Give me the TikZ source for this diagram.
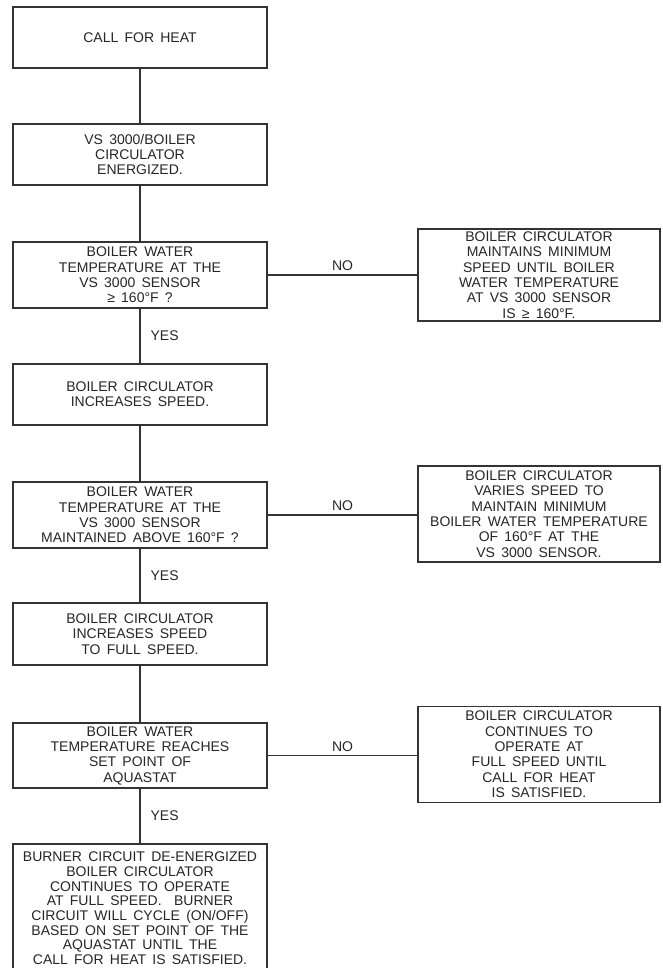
\documentclass[tikz,border=0pt]{standalone}
\usepackage{fontspec}
\setmainfont[WordSpace=1.6]{Liberation Sans}
\begin{document}
\begin{tikzpicture}[x=0.75pt,y=-0.75pt,
  every node/.style={font=\fontsize{10.5}{11.5}\selectfont, text=black!85},
  box/.style={draw=black!80, line width=1pt, fill=white, align=center, inner sep=0pt},
  lbox/.style={box, minimum width=190.5pt},
  rbox/.style={box, minimum width=181.5pt},
  conn/.style={draw=black!80, line width=0.9pt},
  yeslbl/.style={midway, anchor=west, inner sep=0pt, xshift=7.5pt},
  nolbl/.style={midway, above, inner sep=0pt, yshift=2.5pt}]
\clip (0,0) rectangle (662,968);
\useasboundingbox (0,0) rectangle (662,968);
% left column
\node[lbox, minimum height=45.75pt] (b1) at (140,37.5) {CALL FOR HEAT};
\node[lbox, minimum height=45.75pt] (b2) at (140,154.5) {VS 3000/BOILER\\CIRCULATOR\\ENERGIZED.};
\node[lbox, minimum height=49.5pt] (b3) at (140,275) {BOILER WATER\\TEMPERATURE AT THE\\VS 3000 SENSOR\\≥ 160°F ?};
\node[lbox, minimum height=45.75pt] (b4) at (140,394.5) {BOILER CIRCULATOR\\INCREASES SPEED.};
\node[lbox, minimum height=49.5pt] (b5) at (140,515) {BOILER WATER\\TEMPERATURE AT THE\\VS 3000 SENSOR\\MAINTAINED ABOVE 160°F ?};
\node[lbox, minimum height=46.5pt] (b6) at (140,634) {BOILER CIRCULATOR\\INCREASES SPEED\\TO FULL SPEED.};
\node[lbox, minimum height=48.75pt] (b7) at (140,755.5) {BOILER WATER\\TEMPERATURE REACHES\\SET POINT OF\\AQUASTAT};
\node[lbox, minimum height=96.75pt, font=\fontsize{10.5}{11}\selectfont] (b8) at (140,908.5) {BURNER CIRCUIT DE-ENERGIZED\\BOILER CIRCULATOR\\CONTINUES TO OPERATE\\AT FULL SPEED.\ \ BURNER\\CIRCUIT WILL CYCLE (ON/OFF)\\BASED ON SET POINT OF THE\\AQUASTAT UNTIL THE\\CALL FOR HEAT IS SATISFIED.};
% right column
\node[rbox, minimum height=69pt] (r1) at (539,275) {BOILER CIRCULATOR\\MAINTAINS MINIMUM\\SPEED UNTIL BOILER\\WATER TEMPERATURE\\AT VS 3000 SENSOR\\IS ≥ 160°F.};
\node[rbox, minimum height=72pt] (r2) at (539,514) {BOILER CIRCULATOR\\VARIES SPEED TO\\MAINTAIN MINIMUM\\BOILER WATER TEMPERATURE\\OF 160°F AT THE\\VS 3000 SENSOR.};
\node[rbox, minimum height=72pt] (r3) at (539,754.5) {BOILER CIRCULATOR\\CONTINUES TO\\OPERATE AT\\FULL SPEED UNTIL\\CALL FOR HEAT\\IS SATISFIED.};
% connectors
\draw[conn] (b1) -- (b2);
\draw[conn] (b2) -- (b3);
\draw[conn] (b3) -- node[yeslbl] {YES} (b4);
\draw[conn] (b4) -- (b5);
\draw[conn] (b5) -- node[yeslbl] {YES} (b6);
\draw[conn] (b6) -- (b7);
\draw[conn] (b7) -- node[yeslbl] {YES} (b8);
\draw[conn] (b3.east) -- node[nolbl] {NO} (r1.west);
\draw[conn] (b5.east) -- node[nolbl] {NO} (r2.west |- b5.east);
\draw[conn] (b7.east) -- node[nolbl] {NO} (r3.west |- b7.east);
\end{tikzpicture}
\end{document}
